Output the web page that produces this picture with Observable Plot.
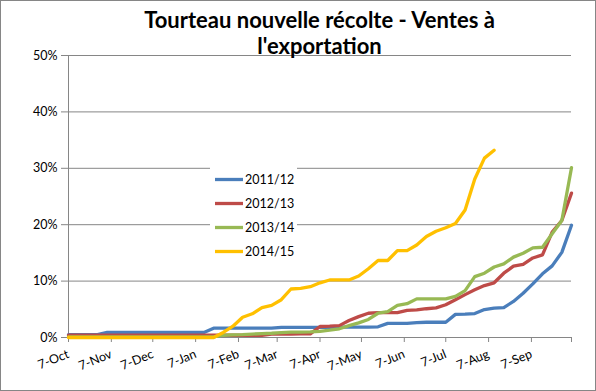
<!DOCTYPE html>
<html>
<head>
<meta charset="utf-8">
<script src="https://cdn.jsdelivr.net/npm/d3@7"></script>
<script src="https://cdn.jsdelivr.net/npm/@observablehq/plot@0.6"></script>
<style>
  html, body { margin: 0; padding: 0; background: #fff; }
  #frame { position: relative; width: 596px; height: 391px; box-sizing: border-box; border: 1px solid #868686; background: #fff; overflow: hidden; }
  #title { position: absolute; left: 67px; top: 6px; width: 503px; text-align: center; font-family: Lato, "Open Sans", sans-serif; font-weight: bold; font-size: 22px; line-height: 26px; color: #000; z-index: 2; }
  #chart { position: absolute; left: 0; top: 0; }
  #chart [aria-label^="x-axis"] line, #chart [aria-label^="x-axis"] path,
  #chart [aria-label^="y-axis"] line, #chart [aria-label^="y-axis"] path { stroke: #868686; }
  #chart text { fill: #000; }
</style>
</head>
<body>
<div id="frame">
  <div id="title">Tourteau nouvelle récolte - Ventes à<br>l'exportation</div>
  <div id="chart"></div>
</div>
<script>
// Weekly dates (x categories)
const weeks = [
  "2014-10-07","2014-10-14","2014-10-21","2014-10-28","2014-11-04","2014-11-11","2014-11-18","2014-11-25",
  "2014-12-02","2014-12-09","2014-12-16","2014-12-23","2014-12-30","2015-01-06","2015-01-13","2015-01-20",
  "2015-01-27","2015-02-03","2015-02-10","2015-02-17","2015-02-24","2015-03-03","2015-03-10","2015-03-17",
  "2015-03-24","2015-03-31","2015-04-07","2015-04-14","2015-04-21","2015-04-28","2015-05-05","2015-05-12",
  "2015-05-19","2015-05-26","2015-06-02","2015-06-09","2015-06-16","2015-06-23","2015-06-30","2015-07-07",
  "2015-07-14","2015-07-21","2015-07-28","2015-08-04","2015-08-11","2015-08-18","2015-08-25","2015-09-01",
  "2015-09-08","2015-09-15","2015-09-22","2015-09-29","2015-10-06"
];

const seriesNames = ["2011/12", "2012/13", "2013/14", "2014/15"];
const seriesColors = ["#4A7EBB", "#BE4B48", "#98B954", "#FFC000"];

// Cumulative share of exports (%)
const s2011 = [0.5,0.5,0.5,0.5,0.9,0.9,0.9,0.9,0.9,0.9,0.9,0.9,0.9,0.9,0.9,1.65,
  1.65,1.65,1.65,1.65,1.65,1.65,1.8,1.8,1.8,1.8,1.8,1.8,1.85,1.85,1.85,1.85,
  1.9,2.5,2.5,2.5,2.65,2.7,2.7,2.7,4.1,4.15,4.25,4.95,5.2,5.3,6.4,7.85,
  9.5,11.3,12.7,15.1,19.9];
const s2012 = [0.4,0.4,0.4,0.4,0.4,0.4,0.4,0.4,0.4,0.4,0.4,0.4,0.4,0.4,0.4,0.4,
  0.4,0.4,0.4,0.4,0.4,0.6,0.6,0.6,0.65,0.65,1.95,2.0,2.1,3.0,3.7,4.3,
  4.4,4.4,4.4,4.8,4.9,5.1,5.25,5.8,6.7,7.6,8.45,9.2,9.7,11.4,12.65,12.95,
  14.1,14.65,18.7,20.75,25.6];
const s2013 = [0.1,0.1,0.1,0.1,0.1,0.1,0.1,0.1,0.1,0.1,0.1,0.1,0.1,0.1,0.1,0.1,
  0.4,0.45,0.5,0.6,0.7,0.75,0.85,0.95,0.95,1.0,1.1,1.3,1.55,2.1,2.6,3.2,
  4.3,4.6,5.7,6.0,6.85,6.85,6.85,6.85,7.3,8.3,10.8,11.4,12.5,13.05,14.25,14.95,
  15.9,16.0,18.4,20.75,30.1];
const s2014 = [0,0,0,0,0,0,0,0,0,0,0,0,0,0,0,0,
  0.9,2.0,3.6,4.2,5.3,5.7,6.7,8.6,8.7,9.0,9.7,10.2,10.2,10.2,10.9,12.2,
  13.65,13.65,15.4,15.4,16.4,17.9,18.85,19.45,20.2,22.6,28.1,31.8,33.2];

const yTicks = [0, 10, 20, 30, 40, 50];
const xTickDates = ["2014-10-07","2014-11-07","2014-12-07","2015-01-07","2015-02-07","2015-03-07",
  "2015-04-07","2015-05-07","2015-06-07","2015-07-07","2015-08-07","2015-09-07","2015-10-06"];

const parse = d3.utcParse("%Y-%m-%d");
const allSeries = [s2011, s2012, s2013, s2014];
const rows = [];
allSeries.forEach((vals, k) => {
  vals.forEach((v, i) => rows.push({series: seriesNames[k], date: parse(weeks[i]), value: v}));
});
const xStart = parse(weeks[0]);
const xEnd = parse(weeks[weeks.length - 1]);
const tickDates = xTickDates.map(parse);
const fmt = d3.utcFormat("%-d-%b");

const chart = Plot.plot({
  width: 594,
  height: 389,
  marginLeft: 67,
  marginRight: 24,
  marginTop: 54,
  marginBottom: 53,
  style: {background: "transparent", fontFamily: "Lato, 'Open Sans', sans-serif", fontSize: "12.5px", color: "#000", overflow: "visible"},
  x: {type: "utc", domain: [xStart, xEnd], ticks: tickDates,
      tickFormat: d => (+d === +xEnd ? "" : fmt(d)), tickSize: 5, tickRotate: -22, tickPadding: 11, label: null},
  y: {domain: [0, 50], ticks: yTicks, tickFormat: d => d + "%", tickSize: 7, tickPadding: 4, label: null},
  color: {domain: seriesNames, range: seriesColors},
  marks: [
    Plot.ruleY(yTicks.slice(1), {stroke: "#868686", strokeWidth: 1}),
    Plot.ruleX([xStart], {stroke: "#868686", strokeWidth: 1}),
    Plot.ruleY([0], {stroke: "#868686", strokeWidth: 1}),
    Plot.line(rows, {x: "date", y: "value", z: "series", stroke: "series", strokeWidth: 3.3,
      strokeLinejoin: "round", strokeLinecap: "round"})
  ]
});
document.getElementById("chart").appendChild(chart);

// Legend inside the plot area
const svg = d3.select(chart);
const lg = svg.append("g").attr("class", "legend").attr("text-anchor", "start");
lg.append("rect").attr("x", 209).attr("y", 163).attr("width", 87).attr("height", 100)
  .style("fill", "#ffffff").style("stroke", "none");
seriesNames.forEach((name, k) => {
  const cy = 178.5 + k * 24;
  lg.append("line").attr("x1", 214).attr("x2", 242).attr("y1", cy).attr("y2", cy)
    .style("stroke", seriesColors[k]).style("stroke-width", 3.3);
  lg.append("text").attr("x", 244).attr("y", cy + 4.5).text(name)
    .attr("text-anchor", "start")
    .style("font-family", "Lato, 'Open Sans', sans-serif").style("font-size", "12.5px").style("fill", "#000");
});
</script>
</body>
</html>
